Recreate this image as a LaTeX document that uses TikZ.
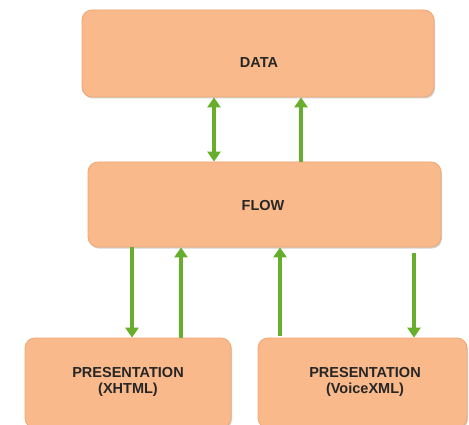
\documentclass[tikz,border=0pt]{standalone}
\usepackage{fontspec}
\setmainfont{Liberation Sans}
\usetikzlibrary{arrows.meta,shadows}
\definecolor{peach}{HTML}{F9B98A}
\definecolor{peachedge}{HTML}{EFA775}
\definecolor{arrowgreen}{HTML}{67AE2C}
\begin{document}
\begin{tikzpicture}[x=1pt,y=-1pt,
  box/.style={draw=peachedge, fill=peach, rounded corners=10pt, line width=0.8pt,
    drop shadow={opacity=0.35, shadow xshift=1pt, shadow yshift=-1.5pt}, inner sep=0pt},
  lbl/.style={font=\bfseries\fontsize{14.5}{16}\selectfont, text=black!85, align=center, inner sep=0pt},
  link/.style={draw=arrowgreen, line width=4pt,
    -{Triangle[width=13pt,length=10pt]}},
  dlink/.style={draw=arrowgreen, line width=4pt,
    {Triangle[width=13pt,length=10pt]}-{Triangle[width=13pt,length=10pt]}}]
\useasboundingbox (0,0) rectangle (469,425);
\fill[white] (0,0) rectangle (469,425);
\node[box, minimum width=352pt, minimum height=87pt] (data) at (258,53.5) {};
\node[lbl] (datat) at (259,63) {DATA};
\node[box, minimum width=353pt, minimum height=85pt] (flow) at (264.5,204.5) {};
\node[lbl] (flowt) at (263,206) {FLOW};
\node[box, minimum width=206pt, minimum height=90pt] (px) at (128,383) {};
\node[lbl] (pxt) at (128,382) {PRESENTATION\\(XHTML)};
\node[box, minimum width=209pt, minimum height=90pt] (pv) at (362.5,383) {};
\node[lbl] (pvt) at (365,382) {PRESENTATION\\(VoiceXML)};
\draw[dlink] (flow.north -| 214,0) -- (data.south -| 214,0);
\draw[link] (flow.north -| 301,0) -- (data.south -| 301,0);
\draw[link] (flow.south -| 132,0) -- (px.north -| 132,0);
\draw[link] (px.north -| 181,0) -- (flow.south -| 181,0);
\coordinate (c280) at (280,336);
\draw[link] (c280) -- (flow.south -| 280,0);
\coordinate (c414) at (414,253);
\draw[link] (c414) -- (pv.north -| 414,0);
\end{tikzpicture}
\end{document}
